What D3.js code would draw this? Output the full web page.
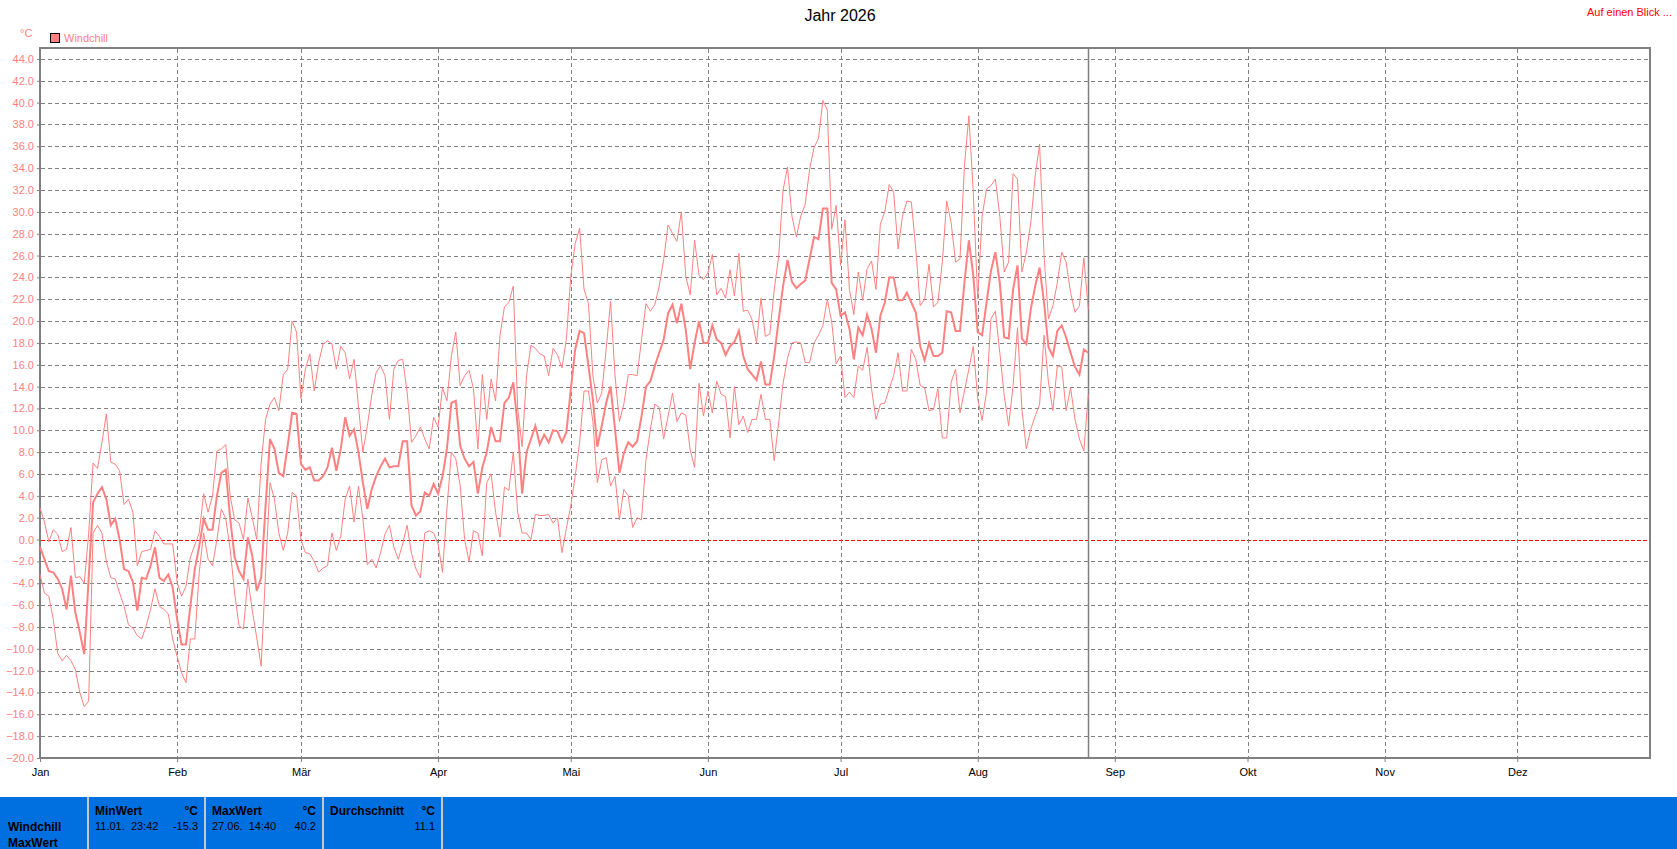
<!DOCTYPE html>
<html><head><meta charset="utf-8">
<script src="https://cdn.jsdelivr.net/npm/d3@7"></script>
<style>
body{margin:0;background:#fff;overflow:hidden}
svg{display:block}
text{font-family:"Liberation Sans",Arial,sans-serif;white-space:pre}
</style>
</head><body>
<svg id="chart" width="1677" height="849"></svg>
<script>
// ---------- data ----------
const year = 2026;
const titleText = "Jahr 2026";
const seriesName = "Windchill";
const unit = "°C";
const monthLabels = ["Jan","Feb","Mär","Apr","Mai","Jun","Jul","Aug","Sep","Okt","Nov","Dez"];
const yTicks = d3.range(-20, 45, 2);

// daily values starting 1 January (day 0) up to 26 August
const maxValues = [
 2.9,1.6,-0.2,0.9,0.5,-1.1,-0.9,1.1,-3.5,-3.4,-4.0,0.5,7.0,6.5,8.9,11.5,7.1,6.9,6.3,3.2,
 3.7,2.5,-2.4,-1.1,-1.0,-0.9,0.8,0.3,-0.4,-0.4,-0.4,-3.9,-5.2,-4.3,-1.6,-0.5,0.6,4.2,2.5,4.0,
 8.1,8.3,8.7,4.0,1.8,1.5,0.0,3.8,2.0,0.0,7.0,11.0,
 12.4,13.0,11.8,15.1,15.6,20.0,19.0,12.9,15.6,17.0,13.6,16.2,17.9,18.2,17.9,15.6,17.7,17.1,
 14.7,16.5,12.2,8.0,10.4,13.2,15.3,15.9,15.0,11.0,15.6,16.4,16.5,13.5,8.9,9.5,10.3,9.2,8.3,
 11.2,10.3,13.9,12.7,16.8,19.0,14.1,15.0,15.5,13.8,8.3,15.1,11.0,14.7,12.7,18.7,21.3,21.7,
 23.2,12.0,8.5,15.0,17.8,17.5,17.0,16.8,15.0,
 17.5,16.9,15.7,18.3,24.1,27.1,28.5,22.9,21.6,15.0,12.5,13.4,17.4,21.8,15.0,10.8,12.4,15.1,
 15.1,15.0,18.3,21.6,20.9,21.5,23.2,25.6,28.8,28.0,27.3,30.0,24.1,22.4,27.4,24.2,23.8,24.4,
 26.1,22.4,23.0,22.1,24.7,22.3,26.2,20.9,21.0,20.1,18.0,22.1,18.6,18.8,22.9,25.9,32.0,34.1,
 29.6,27.7,
 29.6,30.7,33.9,35.9,36.7,40.2,39.3,28.4,30.6,25.1,29.3,22.9,20.6,24.5,21.9,24.8,25.5,22.9,
 28.9,30.0,32.5,31.8,26.6,29.6,31.0,30.9,26.6,21.4,22.0,25.2,21.3,21.7,25.4,31.0,29.0,25.4,
 25.7,34.2,38.8,31.8,22.0,29.6,32.1,32.4,33.0,29.6,24.5,25.4,33.5,33.0,24.5,26.3,29.0,33.3,
 36.2,26.0,20.2,21.4,23.5,26.3,25.4,22.6,20.8,21.4,25.8,21.1
];
const meanValues = [
 -0.7,-1.8,-2.9,-3.0,-3.6,-4.5,-6.4,-3.3,-6.7,-8.5,-10.5,-3.6,3.4,4.2,4.8,3.7,1.3,1.9,0.0,-2.7,
 -2.9,-3.9,-6.5,-3.5,-3.6,-2.4,-0.7,-3.5,-3.8,-3.2,-4.4,-7.3,-9.6,-9.6,-6.1,-2.7,-0.6,1.9,0.9,0.9,
 4.0,6.1,6.4,1.9,-1.6,-2.9,-3.6,0.2,-1.5,-4.7,-3.5,3.1,
 9.2,8.3,6.1,5.8,8.6,11.6,11.5,6.9,6.4,6.6,5.4,5.4,5.8,6.6,8.4,6.3,8.3,11.2,9.5,10.1,8.0,5.2,
 2.8,4.6,5.8,6.7,7.4,6.6,6.7,6.7,9.0,9.0,3.1,2.2,2.6,4.3,4.0,5.1,4.2,5.8,8.3,12.5,12.7,8.6,
 7.4,6.7,7.1,4.2,6.6,8.0,10.3,9.0,9.0,12.5,13.0,14.4,10.4,4.2,8.0,9.2,10.4,8.7,9.6,8.9,
 10.0,9.9,8.9,9.8,13.7,17.4,19.1,18.9,15.9,12.8,8.5,10.4,12.5,14.0,10.1,6.1,7.9,8.9,8.5,9.0,
 11.3,14.0,14.5,15.9,17.1,18.3,20.7,21.5,19.8,21.6,19.2,15.6,18.0,20.0,18.0,18.0,19.6,18.3,
 18.0,16.9,17.7,18.1,19.1,16.8,15.6,15.1,14.6,16.3,14.2,14.2,16.8,20.1,23.2,25.6,23.6,23.0,
 23.4,23.7,25.7,27.7,27.5,30.3,30.3,23.5,22.9,20.5,20.8,19.3,16.5,19.4,18.7,20.6,19.3,17.1,
 20.5,21.7,24.0,24.0,21.9,21.9,22.6,21.7,20.8,17.7,16.4,18.0,16.8,16.8,17.1,20.9,20.8,19.1,
 19.1,23.5,27.4,24.2,19.0,18.7,21.7,24.6,26.3,23.5,18.5,18.4,22.9,25.1,18.4,17.9,21.1,23.2,
 24.9,21.7,17.6,16.8,19.1,19.6,18.5,17.1,15.8,15.1,17.4,17.1
];
const minValues = [
 -3.2,-4.9,-5.2,-7.3,-10.4,-11.1,-10.6,-11.1,-11.9,-14.0,-15.3,-14.8,0.6,1.3,0.6,-2.0,-3.5,-3.6,
 -4.9,-6.1,-7.8,-8.1,-8.8,-9.1,-7.9,-6.4,-4.5,-6.1,-6.4,-6.8,-9.1,-10.7,-12.2,-13.1,-9.1,-9.1,
 -3.0,0.6,-1.8,-2.4,0.0,2.8,1.9,-0.9,-4.9,-7.9,-8.2,-3.6,-6.5,-9.0,-11.6,-3.0,
 5.2,3.7,0.6,-1.0,0.6,4.3,4.0,0.0,-1.2,-1.3,-2.0,-3.0,-2.6,-2.4,0.6,-1.0,0.3,3.7,4.9,1.6,4.9,
 1.9,-2.3,-1.8,-2.6,-1.2,0.5,1.3,-0.7,-1.8,-0.4,1.3,-1.3,-2.7,-3.5,0.6,0.8,0.6,-0.4,-3.0,2.8,
 8.0,7.4,4.9,0.0,-2.0,0.8,0.6,-1.5,5.2,6.0,2.5,0.2,4.8,4.5,8.0,2.5,0.6,0.6,0.0,2.3,2.2,2.2,2.3,
 1.5,2.0,-1.2,1.0,3.1,5.8,8.9,13.6,13.6,10.8,5.2,7.3,7.5,4.9,5.8,1.8,4.6,4.0,1.1,2.0,1.8,7.3,
 10.1,12.4,12.1,9.2,11.3,13.4,10.8,11.6,11.4,8.2,6.6,14.3,11.3,13.6,11.6,14.5,13.3,13.1,9.3,
 14.0,10.5,11.3,9.8,11.0,11.0,13.3,11.0,11.0,7.2,10.7,14.3,16.6,18.0,18.1,
 18.0,16.2,16.2,18.0,18.7,19.6,22.0,19.9,16.1,16.8,13.0,13.5,13.0,15.9,15.5,17.6,13.8,11.0,
 12.4,12.5,13.8,15.0,17.1,13.6,13.6,17.4,16.5,14.1,13.9,11.8,11.9,13.8,9.3,9.3,14.4,15.6,
 11.6,13.6,15.6,17.7,12.9,10.9,13.5,20.2,20.9,17.1,13.2,10.4,14.1,19.4,11.9,8.3,10.1,11.3,
 12.4,18.7,14.4,11.8,15.9,15.8,11.8,13.9,11.0,9.2,8.1,13.3
];

// footer statistics
const statHeaders = ["MinWert","MaxWert","Durchschnitt"];
const statTimes = ["11.01.  23:42","27.06.  14:40",""];
const statValues = ["-15.3","40.2","11.1"];
const rowLabels = ["Windchill","MaxWert"];

// ---------- chart ----------
(function () {
const W = 1677, H = 849;
const pL = 40, pR = 1650, pT = 48, pB = 758;
const lineColor = "#ff8080";
const gridColor = "#808080";

const svg = d3.select("#chart");
const dayDate = d => new Date(Date.UTC(year, 0, 1 + d));
const x = d3.scaleUtc().domain([new Date(Date.UTC(year,0,1)), new Date(Date.UTC(year,11,31))]).range([pL, pR]);
const y = d3.scaleLinear().domain([-20, 45]).range([pB, pT]);
const monthDates = monthLabels.map((m,i) => new Date(Date.UTC(year, i, 1)));

// horizontal grid
svg.append("g").selectAll("line").data(yTicks.filter(v => v !== -20)).join("line")
  .attr("x1", pL + 1).attr("x2", pR)
  .attr("y1", d => Math.round(y(d)) + 0.5).attr("y2", d => Math.round(y(d)) + 0.5)
  .attr("stroke", d => d === 0 ? "#ff0000" : gridColor)
  .attr("stroke-width", 1)
  .attr("shape-rendering", "crispEdges")
  .attr("stroke-dasharray", d => d === 0 ? "4,2" : "4,3");

// vertical grid
svg.append("g").selectAll("line").data(monthDates.slice(1)).join("line")
  .attr("x1", d => Math.round(x(d)) + 0.5).attr("x2", d => Math.round(x(d)) + 0.5)
  .attr("y1", pT + 1).attr("y2", pB)
  .attr("stroke", gridColor).attr("stroke-width", 1)
  .attr("shape-rendering", "crispEdges")
  .attr("stroke-dasharray", "4,3");

// axes
const yAxis = svg.append("g").attr("transform", `translate(${pL},0)`)
  .call(d3.axisLeft(y).tickValues(yTicks).tickSize(3).tickPadding(3).tickFormat(d3.format(".1f")));
yAxis.select(".domain").remove();
yAxis.selectAll("line").attr("stroke", gridColor);
yAxis.selectAll("text").attr("fill", lineColor).style("font-size", "11px");

const xAxis = svg.append("g").attr("transform", `translate(0,${pB})`)
  .call(d3.axisBottom(x).tickValues(monthDates).tickSize(4).tickPadding(6).tickFormat((d,i) => monthLabels[i]));
xAxis.select(".domain").remove();
xAxis.selectAll("line").attr("stroke", gridColor);
xAxis.selectAll("text").attr("fill", "#000").style("font-size", "11px");

// frame
svg.append("rect").attr("x", pL).attr("y", pT).attr("width", pR - pL).attr("height", pB - pT)
  .attr("fill", "none").attr("stroke", gridColor).attr("stroke-width", 2);

// current date marker
const lastDay = meanValues.length - 1;
const xm = Math.round(x(dayDate(lastDay))) + 0.5;
svg.append("line").attr("x1", xm).attr("x2", xm).attr("y1", pT).attr("y2", pB)
  .attr("stroke", gridColor).attr("stroke-width", 1.5);

// lines
const line = d3.line().x((d,i) => x(dayDate(i))).y(d => y(d));
svg.append("path").datum(maxValues).attr("d", line)
  .attr("fill", "none").attr("stroke", lineColor).attr("stroke-width", 1);
svg.append("path").datum(minValues).attr("d", line)
  .attr("fill", "none").attr("stroke", lineColor).attr("stroke-width", 1);
svg.append("path").datum(meanValues).attr("d", line)
  .attr("fill", "none").attr("stroke", lineColor).attr("stroke-width", 2);

// title & labels
svg.append("text").attr("x", 840).attr("y", 21).attr("text-anchor", "middle")
  .style("font-size", "16px").attr("fill", "#000").text(titleText);
svg.append("text").attr("x", 1672).attr("y", 16).attr("text-anchor", "end")
  .style("font-size", "11px").attr("fill", "#ff0000").text("Auf einen Blick ...");
svg.append("text").attr("x", 20).attr("y", 37).style("font-size", "11px").attr("fill", lineColor).text(unit);
svg.append("rect").attr("x", 50.5).attr("y", 33.5).attr("width", 9).attr("height", 9)
  .attr("fill", lineColor).attr("stroke", "#000").attr("stroke-width", 1);
svg.append("text").attr("x", 64).attr("y", 42).style("font-size", "11px").attr("fill", lineColor).text(seriesName);

// footer
const fy = 797;
svg.append("rect").attr("x", 0).attr("y", fy).attr("width", W).attr("height", H - fy).attr("fill", "#0070e0");
const colEdges = [87, 204, 322, 441];
svg.append("g").selectAll("rect").data(colEdges).join("rect")
  .attr("x", d => d).attr("y", fy).attr("width", 2).attr("height", H - fy).attr("fill", "#c8c8c8");

const ft = svg.append("g").attr("fill", "#000");
ft.append("text").attr("x", 8).attr("y", 831).style("font-size", "12px").style("font-weight", "bold").text(rowLabels[0]);
ft.append("text").attr("x", 8).attr("y", 847).style("font-size", "12px").style("font-weight", "bold").text(rowLabels[1]);
statHeaders.forEach((h, i) => {
  const x0 = colEdges[i] + 8, x1 = colEdges[i + 1] - 6;
  ft.append("text").attr("x", x0).attr("y", 815).style("font-size", "12px").style("font-weight", "bold").text(h);
  ft.append("text").attr("x", x1).attr("y", 815).attr("text-anchor", "end").style("font-size", "12px").style("font-weight", "bold").text(unit);
  ft.append("text").attr("x", x0).attr("y", 830).style("font-size", "11px").text(statTimes[i]);
  ft.append("text").attr("x", x1).attr("y", 830).attr("text-anchor", "end").style("font-size", "11px").text(statValues[i]);
});
})();
</script>
</body></html>
